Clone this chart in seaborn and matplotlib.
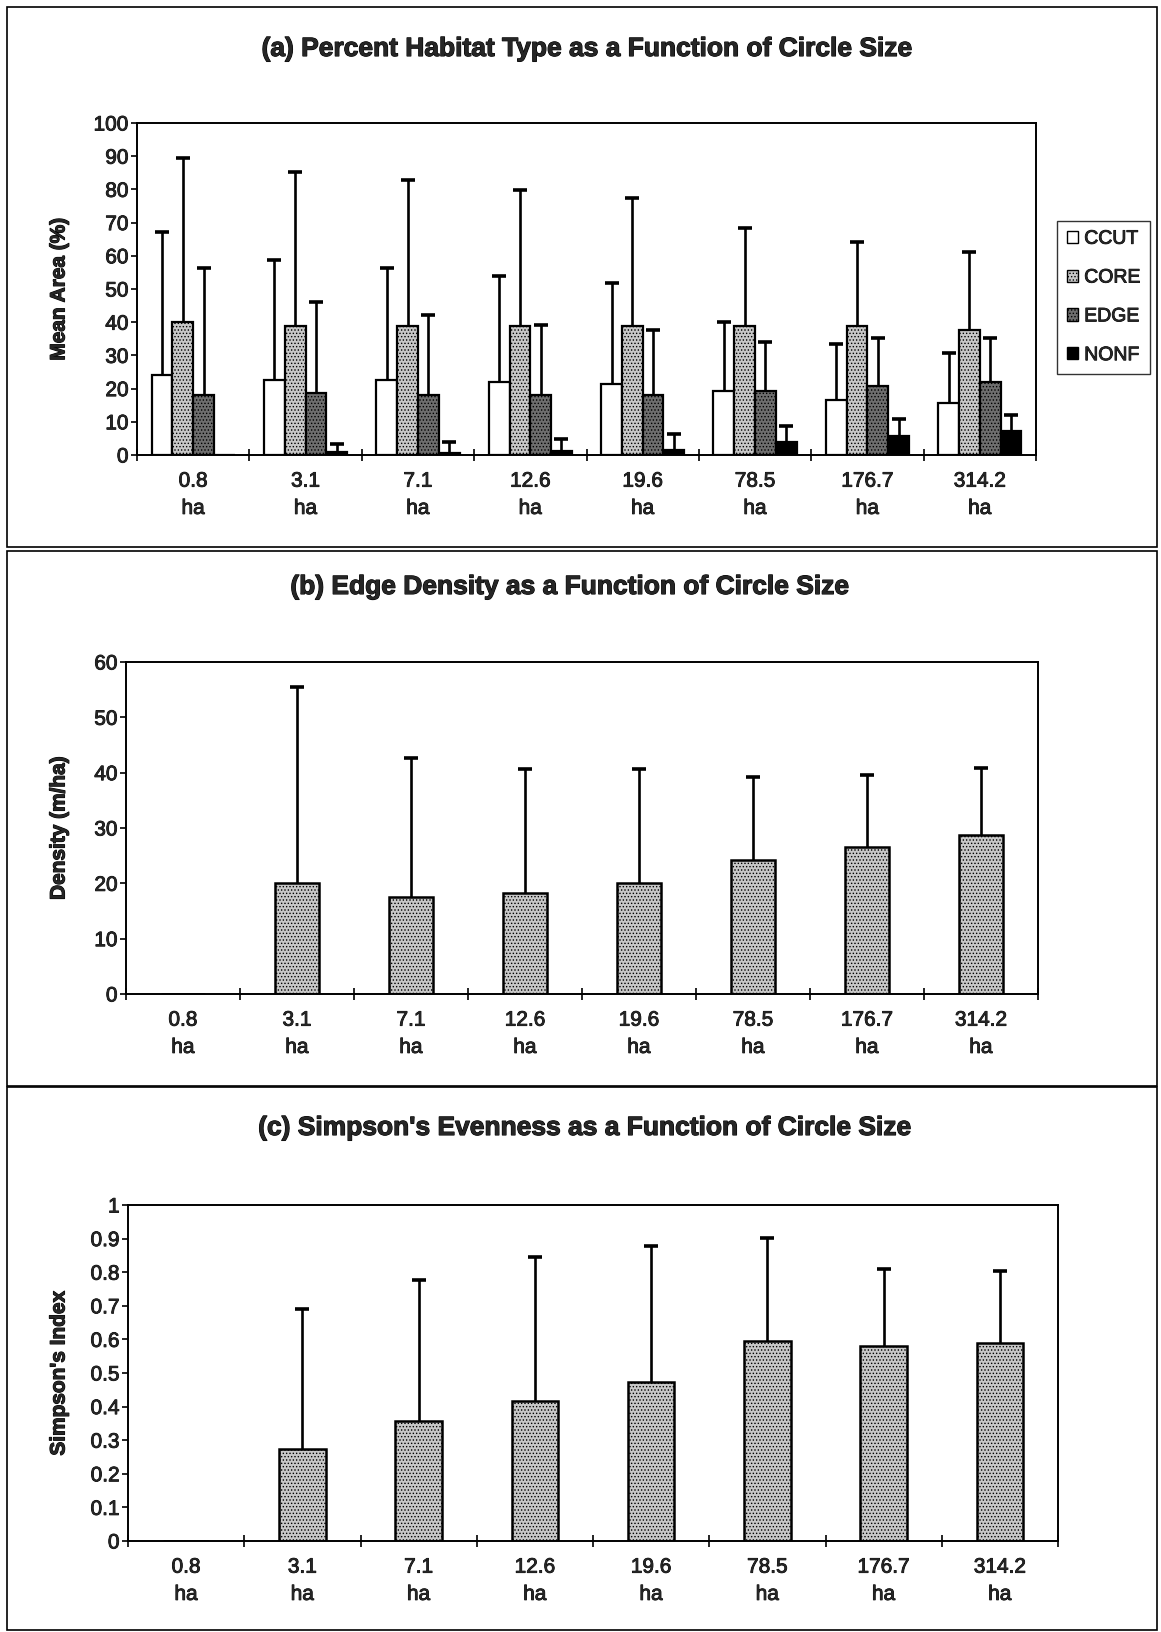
import numpy as np
import pandas as pd
import matplotlib
matplotlib.use("Agg")
import matplotlib.pyplot as plt
import matplotlib.patheffects as pe
from matplotlib.patches import Patch, Rectangle
from matplotlib.ticker import FixedLocator, NullFormatter
import seaborn as sns

# ---- data -------------------------------------------------------------
sizes = ["0.8", "3.1", "7.1", "12.6", "19.6", "78.5", "176.7", "314.2"]
habitat_types = ["CCUT", "CORE", "EDGE", "NONF"]

ccut_mean = [24.0, 22.7, 22.7, 22.1, 21.4, 19.2, 16.6, 15.6]
ccut_upper = [67.1, 58.8, 56.4, 53.9, 51.7, 40.1, 33.3, 30.8]
core_mean = [40.1, 38.9, 38.9, 38.9, 38.9, 38.9, 38.9, 37.8]
core_upper = [89.4, 85.3, 82.7, 79.9, 77.3, 68.3, 64.1, 61.2]
edge_mean = [18.2, 18.6, 18.2, 18.2, 18.2, 19.2, 20.8, 22.1]
edge_upper = [56.3, 46.1, 42.3, 39.2, 37.7, 33.9, 35.1, 35.1]
nonf_mean = [0.0, 0.8, 0.7, 1.1, 1.4, 3.9, 5.6, 7.3]
nonf_upper = [np.nan, 3.3, 3.9, 4.9, 6.2, 8.6, 10.7, 12.0]

density_mean = [0.0, 20.0, 17.5, 18.2, 20.0, 24.3, 26.5, 28.7]
density_upper = [np.nan, 55.5, 42.7, 40.6, 40.6, 39.2, 39.5, 40.9]

simpson_mean = [0.0, 0.275, 0.358, 0.418, 0.472, 0.595, 0.580, 0.590]
simpson_upper = [np.nan, 0.691, 0.776, 0.845, 0.879, 0.902, 0.811, 0.804]

# ---- styling ----------------------------------------------------------
sns.set_style("white")
plt.rcParams["font.family"] = ["Liberation Sans", "DejaVu Sans"]
plt.rcParams["hatch.linewidth"] = 0.6

fills = {"CCUT": "white", "CORE": "#c8c8c8", "EDGE": "#6e6e6e", "NONF": "black"}
hatches = {"CCUT": None, "CORE": ".....", "EDGE": ".....", "NONF": None}
heavy = [pe.withStroke(linewidth=0.6, foreground="black")]
heavier = [pe.withStroke(linewidth=0.8, foreground="black")]

W, H = 1161, 1632
fig = plt.figure(figsize=(W / 100, H / 100), dpi=100)


def px_axes(left, top, right, bottom):
    return fig.add_axes([left / W, 1 - bottom / H, (right - left) / W, (bottom - top) / H])


def style_axes(ax, ymax, step, fmt, ylabel, label_x):
    ax.set_xlim(-0.5, len(sizes) - 0.5)
    ax.set_ylim(0, ymax)
    ticks = np.round(np.arange(0, ymax + step / 2, step), 3)
    ax.set_yticks(ticks)
    ax.set_yticklabels([fmt(t) for t in ticks])
    ax.set_xticks(range(len(sizes)))
    ax.set_xticklabels([f"{s}\nha" for s in sizes], linespacing=1.55)
    ax.xaxis.set_minor_locator(FixedLocator(np.arange(-0.5, len(sizes), 1.0)))
    ax.xaxis.set_minor_formatter(NullFormatter())
    ax.tick_params(axis="x", which="major", length=0, labelsize=15, pad=12)
    ax.tick_params(axis="x", which="minor", length=8, width=1.2, direction="inout",
                   bottom=True, color="black")
    ax.tick_params(axis="y", which="major", length=4, width=1.2, direction="out",
                   left=True, labelsize=15, pad=2, color="black")
    for lab in ax.get_xticklabels() + ax.get_yticklabels():
        lab.set_path_effects(heavy)
    for sp in ax.spines.values():
        sp.set_visible(True)
        sp.set_color("black")
        sp.set_linewidth(1.4)
    ax.set_xlabel("")
    ax.set_ylabel(ylabel, fontsize=15, fontweight="bold")
    ax.yaxis.label.set_va("center")
    ax.yaxis.label.set_path_effects(heavier)
    l, b, w, h = ax.get_position().bounds
    ax.yaxis.set_label_coords((label_x / W - l) / w, 0.5)
    ax.set_facecolor("white")


def upper_errorbars(ax, container, means, uppers):
    xs, ys, errs = [], [], []
    for patch, m, u in zip(container.patches, means, uppers):
        if np.isnan(u):
            continue
        xs.append(patch.get_x() + patch.get_width() / 2)
        ys.append(m)
        errs.append(u - m)
    errs = np.array(errs)
    _, caps, _ = ax.errorbar(xs, ys, yerr=[np.zeros_like(errs), errs], fmt="none",
                             ecolor="black", elinewidth=1.9, capsize=5, capthick=2.6,
                             zorder=1)
    caps[0].set_visible(False)


# ---- (a) habitat composition -----------------------------------------
means = {"CCUT": ccut_mean, "CORE": core_mean, "EDGE": edge_mean, "NONF": nonf_mean}
uppers = {"CCUT": ccut_upper, "CORE": core_upper, "EDGE": edge_upper, "NONF": nonf_upper}
df_a = pd.DataFrame([
    {"size": s, "type": t, "area": means[t][i]}
    for t in habitat_types for i, s in enumerate(sizes)
])

ax_a = px_axes(137, 123, 1036, 455)
sns.barplot(data=df_a, x="size", y="area", hue="type", order=sizes,
            hue_order=habitat_types, palette=fills, saturation=1, width=0.74,
            errorbar=None, edgecolor="black", linewidth=1.6, legend=False,
            ax=ax_a, zorder=2)
for t, cont in zip(habitat_types, ax_a.containers):
    for p in cont.patches:
        if hatches[t]:
            p.set_hatch(hatches[t])
    upper_errorbars(ax_a, cont, means[t], uppers[t])
style_axes(ax_a, 100, 10, lambda v: f"{int(v)}", "Mean Area (%)", 59)

handles = [Patch(facecolor=fills[t], edgecolor="black", hatch=hatches[t], label=t,
                 linewidth=1.0) for t in habitat_types]
leg = fig.legend(handles=handles, loc="upper left",
                 bbox_to_anchor=(1057 / W, 1 - 221 / H), frameon=True, fancybox=False,
                 fontsize=14, handlelength=0.6, handleheight=0.6, handletextpad=0.3,
                 labelspacing=1.12, borderpad=0.5, borderaxespad=0)
leg.get_frame().set_edgecolor("black")
leg.get_frame().set_linewidth(1.0)
for txt in leg.get_texts():
    txt.set_path_effects(heavy)

# ---- (b) edge density -------------------------------------------------
ax_b = px_axes(126, 662, 1038, 994)
sns.barplot(x=sizes, y=density_mean, order=sizes, color=fills["CORE"], saturation=1,
            width=0.39, errorbar=None, edgecolor="black", linewidth=1.8, ax=ax_b,
            zorder=2)
for p in ax_b.containers[0].patches:
    p.set_hatch(hatches["CORE"])
upper_errorbars(ax_b, ax_b.containers[0], density_mean, density_upper)
style_axes(ax_b, 60, 10, lambda v: f"{int(v)}", "Density (m/ha)", 59)

# ---- (c) Simpson's evenness ------------------------------------------
ax_c = px_axes(128, 1205, 1058, 1541)
sns.barplot(x=sizes, y=simpson_mean, order=sizes, color=fills["CORE"], saturation=1,
            width=0.40, errorbar=None, edgecolor="black", linewidth=1.8, ax=ax_c,
            zorder=2)
for p in ax_c.containers[0].patches:
    p.set_hatch(hatches["CORE"])
upper_errorbars(ax_c, ax_c.containers[0], simpson_mean, simpson_upper)
style_axes(ax_c, 1.0, 0.1, lambda v: "0" if v == 0 else ("1" if v == 1 else f"{v:g}"),
           "Simpson's Index", 59)

# ---- titles and panel frames -----------------------------------------
titles = [
    ("(a) Percent Habitat Type as a Function of Circle Size", 587, 49),
    ("(b) Edge Density as a Function of Circle Size", 570, 587),
    ("(c) Simpson's Evenness as a Function of Circle Size", 585, 1128),
]
for text, x, y in titles:
    t = fig.text(x / W, 1 - y / H, text, ha="center", va="center", fontsize=19,
                 fontweight="bold")
    t.set_path_effects(heavier)

for top, bottom in [(7, 547), (551, 1086), (1087, 1630)]:
    fig.add_artist(Rectangle((7 / W, 1 - bottom / H), (1157 - 7) / W, (bottom - top) / H,
                             transform=fig.transFigure, fill=False, edgecolor="black",
                             linewidth=1.2))

fig.savefig("out.png", dpi=100, facecolor="white")
